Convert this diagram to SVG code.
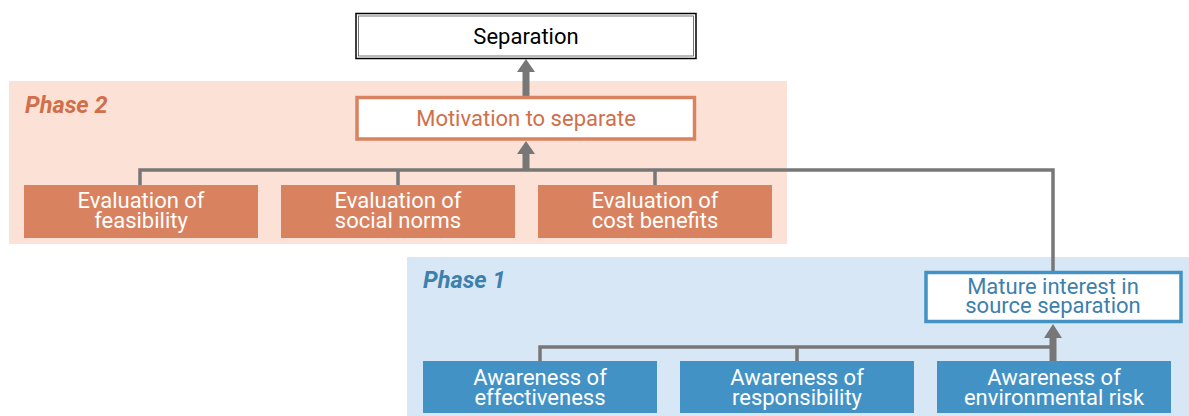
<svg xmlns="http://www.w3.org/2000/svg" width="1189" height="416" viewBox="0 0 1189 416">
<style>
text{font-family:Roboto,"Liberation Sans",sans-serif;text-anchor:middle}
.lbl{font-size:22px;fill:#ffffff}
.phase{font-size:23.5px;font-style:italic;font-weight:bold;text-anchor:start}
.orange{fill:#D9825F}
.blue{fill:#4392C6}
.conn{fill:none;stroke:#777777;stroke-width:3.5}
.shaft{fill:none;stroke:#777777;stroke-width:7}
.head{fill:#777777}
</style>
<rect id="phase2-bg" x="9" y="81" width="778" height="163" fill="#FCE2D6"/>
<rect id="phase1-bg" x="407" y="257" width="782" height="159" fill="#D8E7F5"/>
<text class="phase" x="25" y="113" fill="#D06F4A">Phase 2</text>
<text class="phase" x="423" y="288" fill="#3D80AD">Phase 1</text>
<g id="connectors">
<polyline class="conn" points="140,185 140,170 1053,170 1053,271"/>
<line class="conn" x1="398" y1="170" x2="398" y2="185"/>
<line class="conn" x1="655" y1="170" x2="655" y2="185"/>
<line class="shaft" x1="526" y1="171" x2="526" y2="153"/>
<polygon class="head" points="517,154 535,154 526,141"/>
<line class="shaft" x1="526" y1="97" x2="526" y2="71"/>
<polygon class="head" points="517,72 535,72 526,59"/>
<polyline class="conn" points="540,361 540,347 1053,347"/>
<line class="conn" x1="797" y1="347" x2="797" y2="361"/>
<line class="shaft" x1="1053" y1="361" x2="1053" y2="337"/>
<polygon class="head" points="1044,338 1062,338 1053,324"/>
</g>
<g id="separation">
<rect x="356" y="13.5" width="340" height="45" fill="#ffffff" stroke="#000000" stroke-width="1.5"/>
<rect x="358.5" y="16" width="335" height="40" fill="none" stroke="#555555" stroke-width="0.8"/>
<text x="526" y="43.5" font-size="22" fill="#000000">Separation</text>
</g>
<g id="motivation">
<rect x="357" y="97.5" width="337.5" height="41.5" fill="#ffffff" stroke="#D9825F" stroke-width="3.5"/>
<text x="526" y="126" font-size="22" fill="#D06F4A">Motivation to separate</text>
</g>
<g id="eval-feasibility">
<rect class="orange" x="24" y="185" width="234" height="53"/>
<text class="lbl" x="141" y="208">Evaluation of</text>
<text class="lbl" x="141" y="228">feasibility</text>
</g>
<g id="eval-social">
<rect class="orange" x="281" y="185" width="234" height="53"/>
<text class="lbl" x="398" y="208">Evaluation of</text>
<text class="lbl" x="398" y="228">social norms</text>
</g>
<g id="eval-cost">
<rect class="orange" x="538" y="185" width="234" height="53"/>
<text class="lbl" x="655" y="208">Evaluation of</text>
<text class="lbl" x="655" y="228">cost benefits</text>
</g>
<g id="mature">
<rect x="926" y="272.5" width="255" height="49" fill="#ffffff" stroke="#4392C6" stroke-width="3.5"/>
<text x="1053" y="294" font-size="22" fill="#3D80AD">Mature interest in</text>
<text x="1053" y="313" font-size="22" fill="#3D80AD">source separation</text>
</g>
<g id="aware-effectiveness">
<rect class="blue" x="423" y="361" width="234" height="52"/>
<text class="lbl" x="540" y="385">Awareness of</text>
<text class="lbl" x="540" y="405">effectiveness</text>
</g>
<g id="aware-responsibility">
<rect class="blue" x="680" y="361" width="234" height="52"/>
<text class="lbl" x="797" y="385">Awareness of</text>
<text class="lbl" x="797" y="405">responsibility</text>
</g>
<g id="aware-risk">
<rect class="blue" x="937" y="361" width="234" height="52"/>
<text class="lbl" x="1054" y="385">Awareness of</text>
<text class="lbl" x="1054" y="405">environmental risk</text>
</g>
</svg>
